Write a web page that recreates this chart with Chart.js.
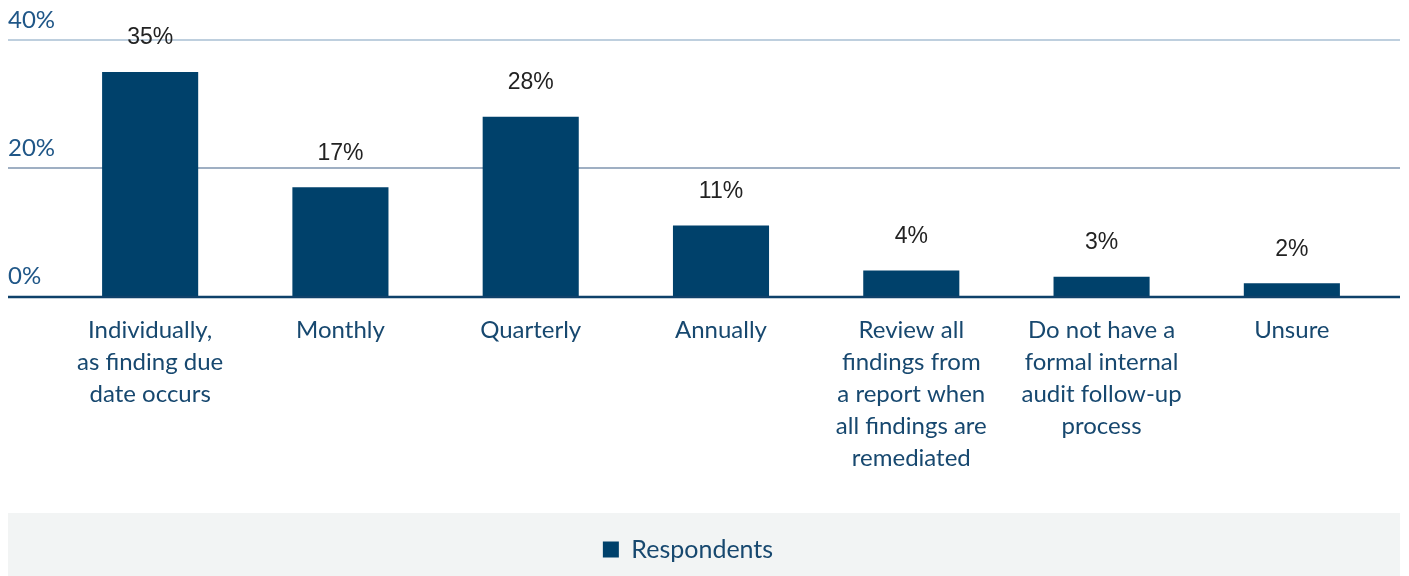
<!DOCTYPE html>
<html>
<head>
<meta charset="utf-8">
<script src="https://cdn.jsdelivr.net/npm/chart.js@4.4.1/dist/chart.umd.min.js"></script>
<style>
  html, body { margin: 0; padding: 0; background: #ffffff; }
  #wrap { position: relative; width: 1409px; height: 576px; }
</style>
</head>
<body>
<div id="wrap"><canvas id="chart" width="1409" height="576"></canvas></div>
<script>
// Follow-up frequency, share of respondents (%)
const categories = [
  ['Individually,', 'as finding due', 'date occurs'],
  ['Monthly'],
  ['Quarterly'],
  ['Annually'],
  ['Review all', 'findings from', 'a report when', 'all findings are', 'remediated'],
  ['Do not have a', 'formal internal', 'audit follow-up', 'process'],
  ['Unsure']
];
const respondents = [35, 17, 28, 11, 4, 3, 2];
const yTicks = [0, 20, 40];
const seriesName = 'Respondents';

const NAVY = '#00416b';
const TEXT_BLUE = '#17486f';

// gray band behind the legend; legend shifted so it centres on the band
const legendBand = {
  id: 'legendBand',
  afterLayout(chart) {
    chart.legend.left -= 33;
    chart.legend.right -= 33;
  },
  beforeDraw(chart) {
    const { ctx, legend } = chart;
    ctx.save();
    ctx.fillStyle = '#f2f4f4';
    ctx.fillRect(8, legend.top, 1392, chart.height - legend.top);
    ctx.restore();
  }
};

// horizontal gridlines spanning the full width, labels sit above each line
const valueGrid = {
  id: 'valueGrid',
  beforeDatasetsDraw(chart) {
    const { ctx, scales: { y } } = chart;
    ctx.save();
    yTicks.forEach(v => {
      const py = y.getPixelForValue(v);
      if (v !== 0) {
        ctx.strokeStyle = v === 40 ? '#a9bfd3' : '#7f95af';
        ctx.lineWidth = 1.5;
        ctx.beginPath();
        ctx.moveTo(8, py);
        ctx.lineTo(1400, py);
        ctx.stroke();
      }
      ctx.fillStyle = '#1f5687';
      ctx.font = '24px Lato';
      ctx.textAlign = 'left';
      ctx.textBaseline = 'middle';
      ctx.fillText(v + '%', 8, py - 20);
    });
    ctx.restore();
  },
  afterDatasetsDraw(chart) {
    const { ctx, scales: { y } } = chart;
    const py = y.getPixelForValue(0);
    ctx.save();
    ctx.strokeStyle = '#0f416a';
    ctx.lineWidth = 2.5;
    ctx.beginPath();
    ctx.moveTo(8, py + 1);
    ctx.lineTo(1400, py + 1);
    ctx.stroke();
    ctx.restore();
  }
};

// percentage above each bar
const barValues = {
  id: 'barValues',
  afterDatasetsDraw(chart) {
    const { ctx } = chart;
    const meta = chart.getDatasetMeta(0);
    ctx.save();
    ctx.fillStyle = '#222222';
    ctx.font = '23px "Liberation Sans", Arial, sans-serif';
    ctx.textAlign = 'center';
    ctx.textBaseline = 'middle';
    meta.data.forEach((bar, i) => {
      ctx.fillText(respondents[i] + '%', bar.x, bar.y - 34);
    });
    ctx.restore();
  }
};

new Chart(document.getElementById('chart'), {
  type: 'bar',
  data: {
    labels: categories,
    datasets: [{
      label: seriesName,
      data: respondents,
      backgroundColor: NAVY,
      borderWidth: 0,
      categoryPercentage: 1,
      barPercentage: 0.505
    }]
  },
  plugins: [legendBand, valueGrid, barValues],
  options: {
    responsive: false,
    animation: false,
    layout: { padding: { left: 55, right: 22, top: 40, bottom: 4 } },
    plugins: {
      tooltip: { enabled: false },
      legend: {
        position: 'bottom',
        labels: {
          boxWidth: 16,
          boxHeight: 16,
          padding: 24,
          color: TEXT_BLUE,
          font: { family: 'Lato', size: 25 }
        }
      }
    },
    scales: {
      x: {
        grid: { display: false, drawTicks: false },
        border: { display: false },
        ticks: {
          autoSkip: false,
          maxRotation: 0,
          padding: 18,
          color: TEXT_BLUE,
          font: { family: 'Lato', size: 24, lineHeight: '32px' }
        },
        afterFit(scale) { scale.height = 217; }
      },
      y: {
        display: false,
        min: 0,
        max: 40
      }
    }
  }
});
</script>
</body>
</html>
